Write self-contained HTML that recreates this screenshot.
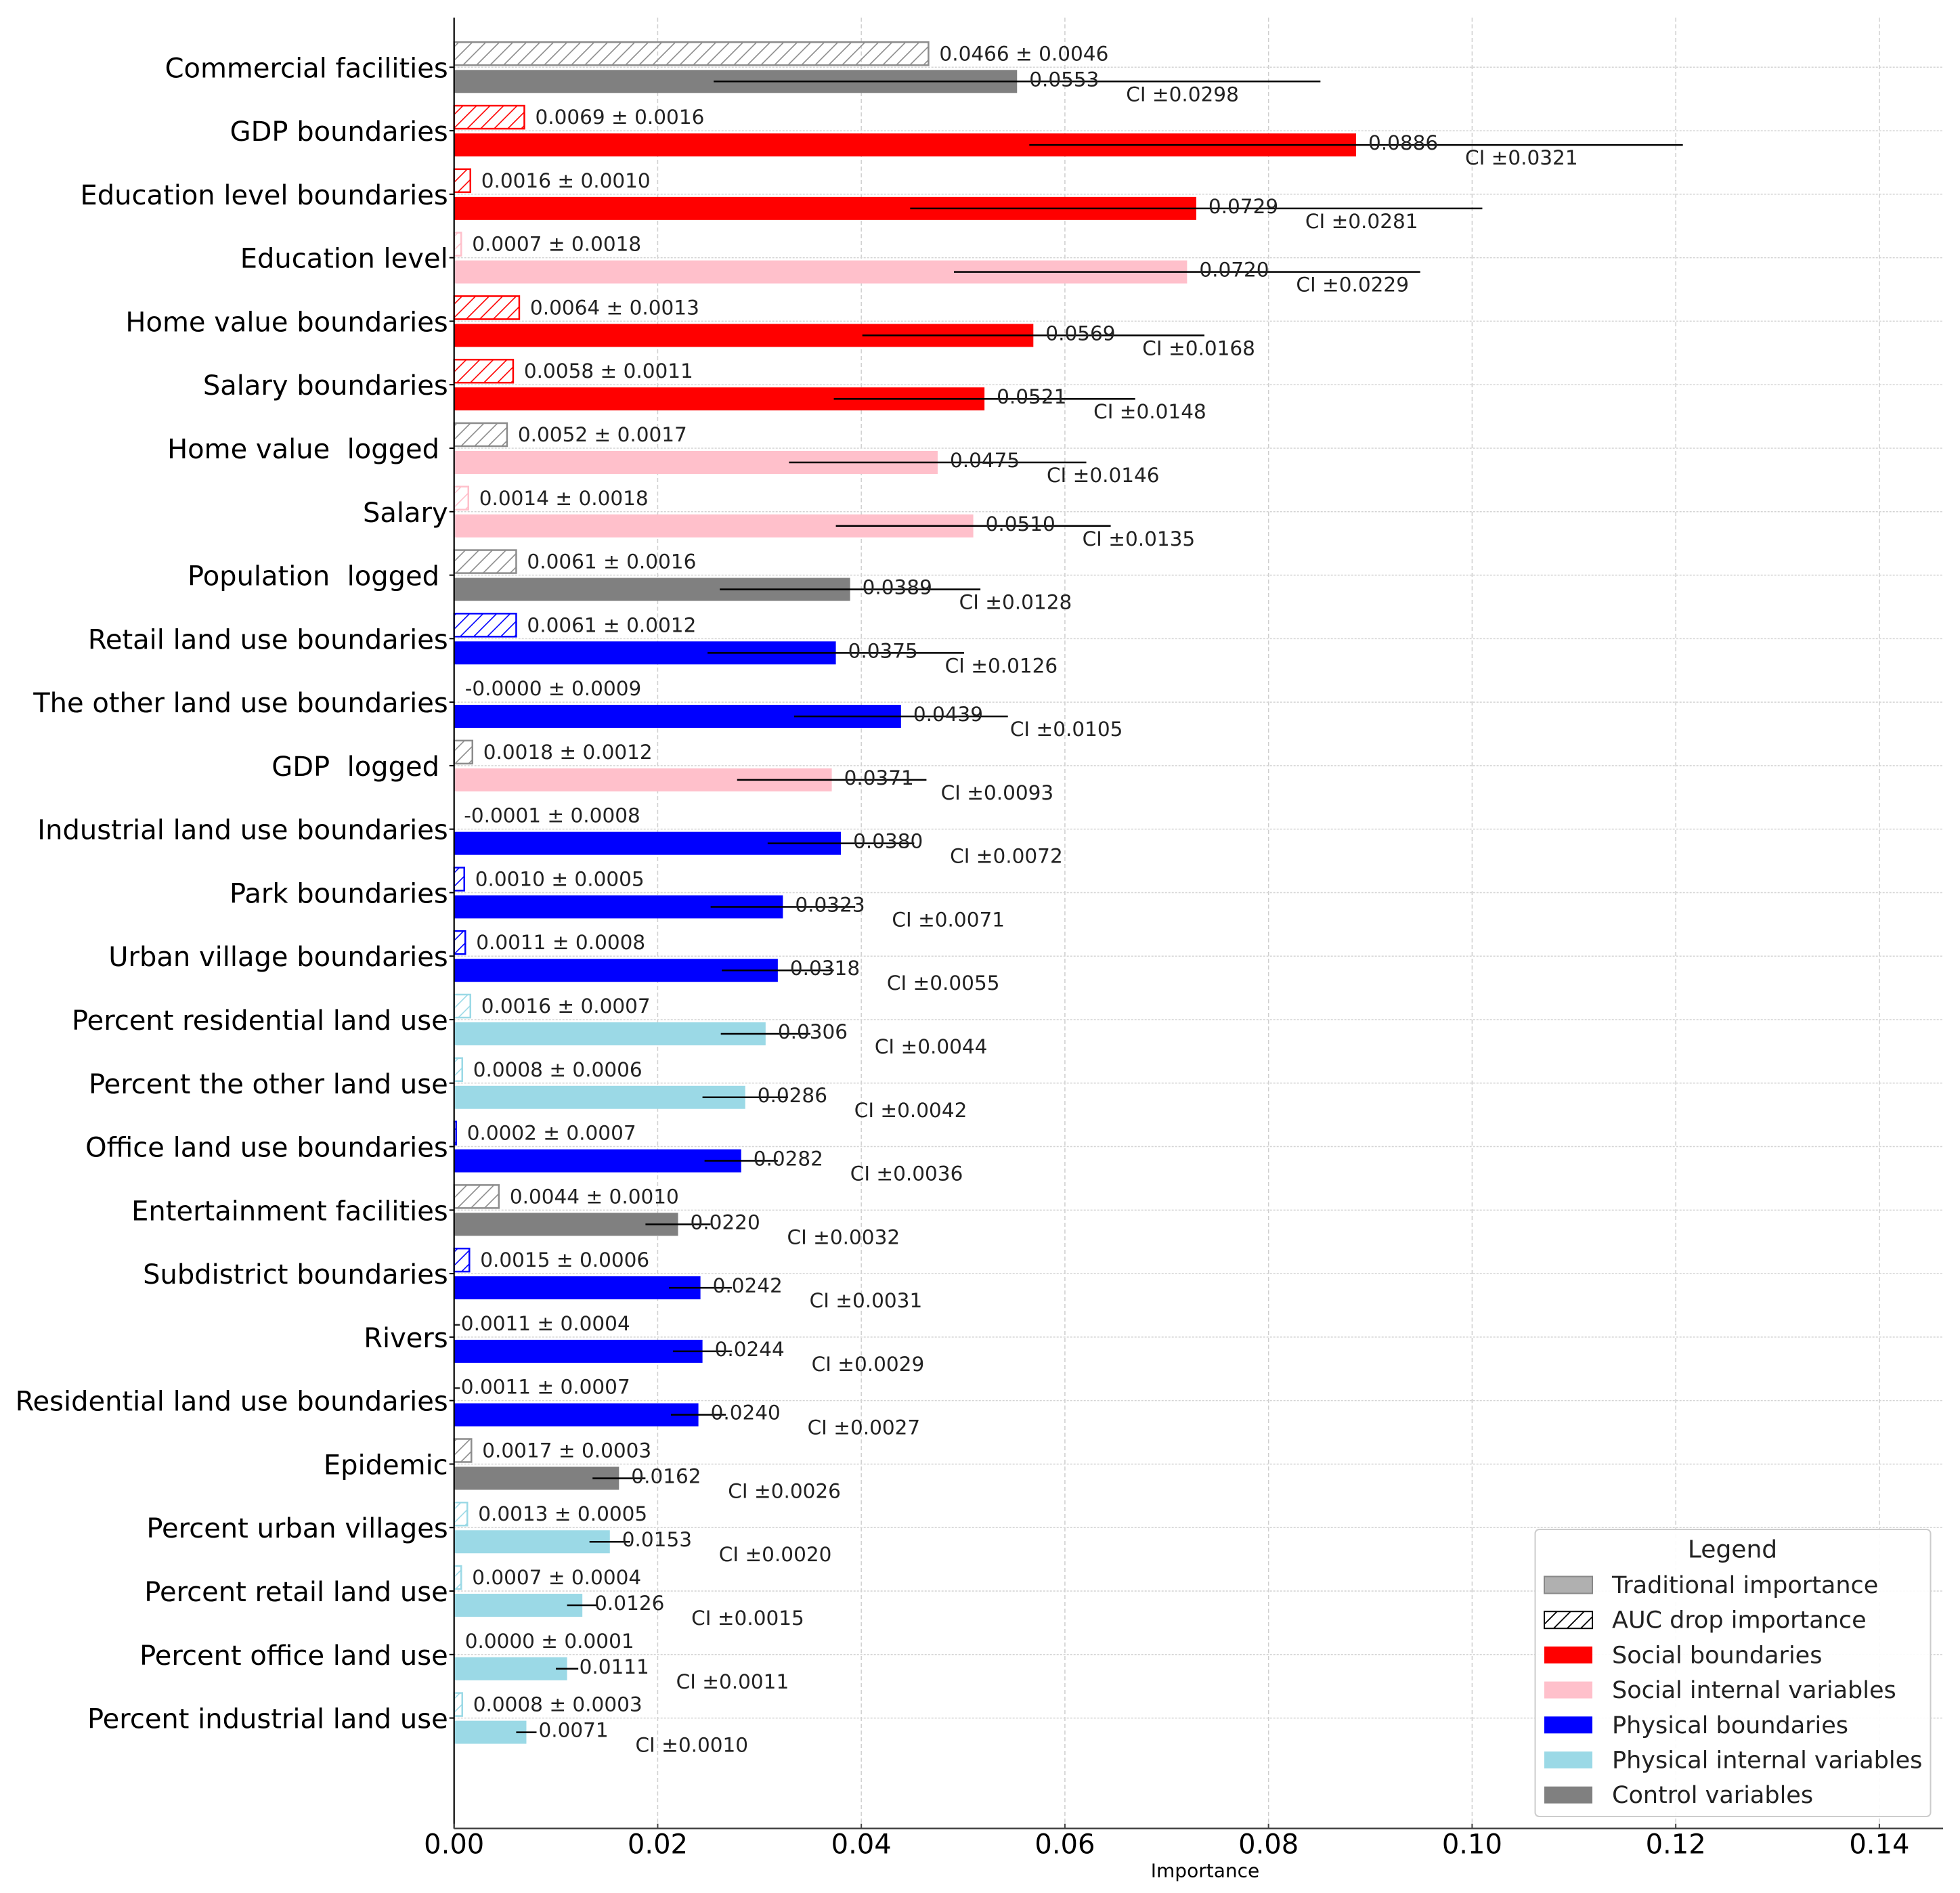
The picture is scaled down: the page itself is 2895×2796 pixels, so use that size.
<!DOCTYPE html>
<html><head><meta charset="utf-8">
<style>
html,body{margin:0;padding:0;background:#fff;}
svg{display:block;font-family:"DejaVu Sans","Liberation Sans",sans-serif;}
text{white-space:pre;}
</style></head>
<body>
<svg id="chart" width="2895" height="2796" viewBox="0 0 2895 2796" xmlns="http://www.w3.org/2000/svg" xml:space="preserve">
<defs id="defs"></defs>
<g id="grid"></g>
<g id="bars"></g>
<g id="axes"></g>
<g id="legend"></g>
</svg>
<script>
const categories = ["Commercial facilities","GDP boundaries","Education level boundaries","Education level","Home value boundaries","Salary boundaries","Home value  logged ","Salary","Population  logged ","Retail land use boundaries","The other land use boundaries","GDP  logged ","Industrial land use boundaries","Park boundaries","Urban village boundaries","Percent residential land use","Percent the other land use","Office land use boundaries","Entertainment facilities","Subdistrict boundaries","Rivers","Residential land use boundaries","Epidemic","Percent urban villages","Percent retail land use","Percent office land use","Percent industrial land use"];
const tradValues = [0.0553,0.0886,0.0729,0.0720,0.0569,0.0521,0.0475,0.0510,0.0389,0.0375,0.0439,0.0371,0.0380,0.0323,0.0318,0.0306,0.0286,0.0282,0.0220,0.0242,0.0244,0.0240,0.0162,0.0153,0.0126,0.0111,0.0071];
const ciValues = [0.0298,0.0321,0.0281,0.0229,0.0168,0.0148,0.0146,0.0135,0.0128,0.0126,0.0105,0.0093,0.0072,0.0071,0.0055,0.0044,0.0042,0.0036,0.0032,0.0031,0.0029,0.0027,0.0026,0.0020,0.0015,0.0011,0.0010];
const aucValues = [0.0466,0.0069,0.0016,0.0007,0.0064,0.0058,0.0052,0.0014,0.0061,0.0061,-0.0000,0.0018,-0.0001,0.0010,0.0011,0.0016,0.0008,0.0002,0.0044,0.0015,-0.0011,-0.0011,0.0017,0.0013,0.0007,0.0000,0.0008];
const aucStd = [0.0046,0.0016,0.0010,0.0018,0.0013,0.0011,0.0017,0.0018,0.0016,0.0012,0.0009,0.0012,0.0008,0.0005,0.0008,0.0007,0.0006,0.0007,0.0010,0.0006,0.0004,0.0007,0.0003,0.0005,0.0004,0.0001,0.0003];
const aucLabels = ["0.0466","0.0069","0.0016","0.0007","0.0064","0.0058","0.0052","0.0014","0.0061","0.0061","-0.0000","0.0018","-0.0001","0.0010","0.0011","0.0016","0.0008","0.0002","0.0044","0.0015","-0.0011","-0.0011","0.0017","0.0013","0.0007","0.0000","0.0008"];
const groups = ["ctl","sb","sb","si","sb","sb","si","si","ctl","pb","pb","si","pb","pb","pb","pi","pi","pb","ctl","pb","pb","pb","ctl","pi","pi","pi","pi"];
const hatchGroups = ["ctl","sb","sb","si","sb","sb","ctl","si","ctl","pb","pb","ctl","pb","pb","pb","pi","pi","pb","ctl","pb","pb","pb","ctl","pi","pi","pi","pi"];
const xTicks = [0,0.02,0.04,0.06,0.08,0.10,0.12,0.14];
const xTickLabels = ["0.00","0.02","0.04","0.06","0.08","0.10","0.12","0.14"];
const legendLabels = ["Traditional importance","AUC drop importance","Social boundaries","Social internal variables","Physical boundaries","Physical internal variables","Control variables"];

const colors = {sb:"#ff0000", si:"#ffc0cb", pb:"#0000ff", pi:"#9bd9e6", ctl:"#808080"};
const hatchStroke = {sb:"#ff0000", si:"#ffc0cb", pb:"#0000ff", pi:"#9bd9e6", ctl:"#8c8c8c"};
const NS="http://www.w3.org/2000/svg";
const X0=670.7, XPU=15037, AX_R=2870, AX_T=26, AX_B=2700.7, ROW0=99.3, ROWS=93.78;
function xs(v){return X0+v*XPU;}
function ys(i){return ROW0+i*ROWS;}
function mk(tag,attrs,parent){const e=document.createElementNS(NS,tag);for(const k in attrs)e.setAttribute(k,attrs[k]);if(parent)parent.appendChild(e);return e;}

const defs=document.getElementById('defs');
for(const g in hatchStroke){
  const p=mk('pattern',{id:'h-'+g,patternUnits:'userSpaceOnUse',width:20,height:20},defs);
  mk('path',{d:'M-5,25 L25,-5 M-5,5 L5,-5 M15,25 L25,15',stroke:hatchStroke[g],'stroke-width':1.6,fill:'none'},p);
}
mk('pattern',{id:'h-black',patternUnits:'userSpaceOnUse',width:20,height:20},defs).appendChild(mk('path',{d:'M-5,25 L25,-5 M-5,5 L5,-5 M15,25 L25,15',stroke:'#000','stroke-width':1.8,fill:'none'}));

const grid=document.getElementById('grid');
xTicks.forEach((t,i)=>{
  if(i===0)return;
  const l=mk('line',{x1:xs(t),x2:xs(t),y1:AX_T,y2:AX_B,stroke:'#cfcfcf','stroke-width':1.5,'stroke-dasharray':'6,4'},grid);
  
  
});
categories.forEach((c,i)=>{
  const l=mk('line',{x1:X0,x2:AX_R,y1:ys(i),y2:ys(i),stroke:'#d4d4d4','stroke-width':1.5,'stroke-dasharray':'3,2'},grid);
  
  
});

const bars=document.getElementById('bars');
categories.forEach((c,i)=>{
  const y=ys(i), g=groups[i], hg=hatchGroups[i];
  const a=aucValues[i];
  const aw=Math.max(0,xs(a)-xs(0));
  if(aw>0){
    const hb=mk('rect',{x:xs(0),y:y-37,width:aw,height:34,fill:'url(#h-'+hg+')',stroke:hatchStroke[hg],'stroke-width':2.5},bars);
    
    
  }
  const at=mk('text',{x:xs(a)+16,y:y-20,'font-size':29.5,fill:'#222','dominant-baseline':'central'},bars);
  at.textContent=aucLabels[i]+' \u00b1 '+aucStd[i].toFixed(4);
  
  
  const tv=tradValues[i];
  const tb=mk('rect',{x:xs(0),y:y+4,width:xs(tv)-xs(0),height:34,fill:colors[g]},bars);
  
  
  const ci=ciValues[i];
  const eb=mk('line',{x1:xs(tv-ci),x2:xs(tv+ci),y1:y+21,y2:y+21,stroke:'#000','stroke-width':2.5},bars);
  
  
  const vt=mk('text',{x:xs(tv)+18,y:y+18,'font-size':29.5,fill:'#222','dominant-baseline':'central'},bars);
  vt.textContent=tv.toFixed(4);
  
  
  const ct=mk('text',{x:xs(tv)+161,y:y+40,'font-size':29.5,fill:'#222','dominant-baseline':'central'},bars);
  ct.textContent='CI \u00b1'+ci.toFixed(4);
  
  
});

const axes=document.getElementById('axes');
let e;
e=mk('line',{x1:X0,x2:X0,y1:AX_T,y2:AX_B,stroke:'#000','stroke-width':2.2},axes);


e=mk('line',{x1:X0,x2:AX_R,y1:AX_B,y2:AX_B,stroke:'#444','stroke-width':2.5},axes);


xTicks.forEach((t,i)=>{
  const tk=mk('line',{x1:xs(t),x2:xs(t),y1:AX_B-7,y2:AX_B,stroke:'#444','stroke-width':2},axes);
  
  
  const tl=mk('text',{x:xs(t),y:AX_B+24,'font-size':40,fill:'#000','text-anchor':'middle','dominant-baseline':'central'},axes);
  tl.textContent=xTickLabels[i];
  
  
});
categories.forEach((c,i)=>{
  const tk=mk('line',{x1:X0-7,x2:X0,y1:ys(i),y2:ys(i),stroke:'#000','stroke-width':2},axes);
  
  
  const tl=mk('text',{x:X0-9,y:ys(i)+2,'font-size':40,fill:'#000','text-anchor':'end','dominant-baseline':'central'},axes);
  tl.textContent=c;
  
  
});
e=mk('text',{x:1780,y:2763,'font-size':28,fill:'#000','text-anchor':'middle','dominant-baseline':'central'},axes);
e.textContent='Importance';



const lg=document.getElementById('legend');
e=mk('rect',{x:2267.5,y:2259,width:584,height:424,rx:6,fill:'#fff','fill-opacity':0.9,stroke:'#cccccc','stroke-width':2},lg);


e=mk('text',{x:2559,y:2289,'font-size':36,fill:'#222','text-anchor':'middle','dominant-baseline':'central'},lg);
e.textContent='Legend';


const swFill=['#b0b0b0','url(#h-black)',colors.sb,colors.si,colors.pb,colors.pi,colors.ctl];
const swStroke=['#888','#000','none','none','none','none','none'];
legendLabels.forEach((l,i)=>{
  const cy=2341+i*51.7;
  const sw=mk('rect',{x:2281,y:cy-12.5,width:71,height:25,fill:swFill[i],stroke:swStroke[i],'stroke-width':swStroke[i]==='none'?0:2},lg);
  
  
  const t=mk('text',{x:2381,y:cy+1,'font-size':35,fill:'#222','dominant-baseline':'central'},lg);
  t.textContent=l;
  
  
});
</script>
</body></html>
